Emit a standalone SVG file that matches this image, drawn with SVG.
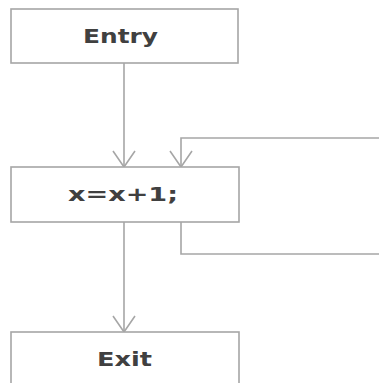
<svg xmlns="http://www.w3.org/2000/svg" width="379" height="383" viewBox="0 0 379 383">
  <defs>
    <style>
      .box { fill: #ffffff; stroke: #a6a6a6; stroke-width: 1.6; }
      .lbl { font-family: "DejaVu Sans", "Liberation Sans", sans-serif; font-weight: bold; fill: #404040; font-size: 19px; }
      .edge { fill: none; stroke: #a6a6a6; stroke-width: 1.6; }
    </style>
    <marker id="vee" viewBox="0 0 24 18" refX="12" refY="17" markerWidth="24" markerHeight="18" markerUnits="userSpaceOnUse" orient="0">
      <path d="M1,1 L12,17 L23,1" fill="none" stroke="#a6a6a6" stroke-width="1.6"/>
    </marker>
  </defs>
  <rect width="379" height="383" fill="#ffffff"/>
  <g id="connectors">
    <path class="edge" d="M124,63 L124,167" marker-end="url(#vee)"/>
    <path class="edge" d="M181,222 L181,254 L380,254"/>
    <path class="edge" d="M380,138 L181,138 L181,167" marker-end="url(#vee)"/>
    <path class="edge" d="M124,222 L124,332" marker-end="url(#vee)"/>
  </g>
  <g id="entry">
    <rect class="box" x="11" y="9" width="227" height="54"/>
    <text class="lbl" x="83" y="43" textLength="75" lengthAdjust="spacingAndGlyphs">Entry</text>
  </g>
  <g id="stmt">
    <rect class="box" x="11" y="167" width="228" height="55"/>
    <text class="lbl" x="68" y="201" textLength="110" lengthAdjust="spacingAndGlyphs">x=x+1;</text>
  </g>
  <g id="exit">
    <rect class="box" x="11" y="332" width="228" height="60"/>
    <text class="lbl" x="97" y="366" textLength="55" lengthAdjust="spacingAndGlyphs">Exit</text>
  </g>
</svg>
